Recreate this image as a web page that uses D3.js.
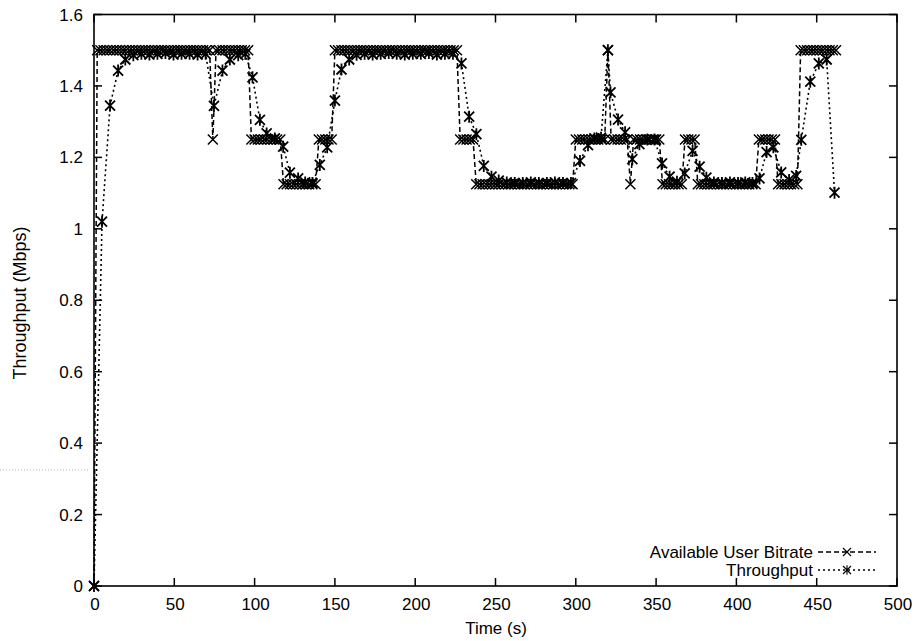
<!DOCTYPE html>
<html>
<head>
<meta charset="utf-8">
<script src="https://cdn.jsdelivr.net/npm/d3@7"></script>
<style>
  body { margin: 0; background: #fff; }
  svg text { font-family: "Liberation Sans", Arial, Helvetica, sans-serif; fill: #000; }
</style>
</head>
<body>
<div id="chart"></div>
<script>
// available user bitrate, sampled every 2 s
var bitrateTime = [
  0,2,4,6,8,10,12,14,16,18,
  20,22,24,26,28,30,32,34,36,38,
  40,42,44,46,48,50,52,54,56,58,
  60,62,64,66,68,70,72,74,76,78,
  80,82,84,86,88,90,92,94,96,98,
  100,102,104,106,108,110,112,114,116,118,
  120,122,124,126,128,130,132,134,136,138,
  140,142,144,146,148,150,152,154,156,158,
  160,162,164,166,168,170,172,174,176,178,
  180,182,184,186,188,190,192,194,196,198,
  200,202,204,206,208,210,212,214,216,218,
  220,222,224,226,228,230,232,234,236,238,
  240,242,244,246,248,250,252,254,256,258,
  260,262,264,266,268,270,272,274,276,278,
  280,282,284,286,288,290,292,294,296,298,
  300,302,304,306,308,310,312,314,316,318,
  320,322,324,326,328,330,332,334,336,338,
  340,342,344,346,348,350,352,354,356,358,
  360,362,364,366,368,370,372,374,376,378,
  380,382,384,386,388,390,392,394,396,398,
  400,402,404,406,408,410,412,414,416,418,
  420,422,424,426,428,430,432,434,436,438,
  440,442,444,446,448,450,452,454,456,458,
  460,462
];
var bitrateValue = [
  0,1.5,1.5,1.5,1.5,1.5,1.5,1.5,1.5,1.5,
  1.5,1.5,1.5,1.5,1.5,1.5,1.5,1.5,1.5,1.5,
  1.5,1.5,1.5,1.5,1.5,1.5,1.5,1.5,1.5,1.5,
  1.5,1.5,1.5,1.5,1.5,1.5,1.5,1.25,1.5,1.5,
  1.5,1.5,1.5,1.5,1.5,1.5,1.5,1.5,1.5,1.25,
  1.25,1.25,1.25,1.25,1.25,1.25,1.25,1.25,1.25,1.125,
  1.125,1.125,1.125,1.125,1.125,1.125,1.125,1.125,1.125,1.125,
  1.25,1.25,1.25,1.25,1.25,1.5,1.5,1.5,1.5,1.5,
  1.5,1.5,1.5,1.5,1.5,1.5,1.5,1.5,1.5,1.5,
  1.5,1.5,1.5,1.5,1.5,1.5,1.5,1.5,1.5,1.5,
  1.5,1.5,1.5,1.5,1.5,1.5,1.5,1.5,1.5,1.5,
  1.5,1.5,1.5,1.5,1.25,1.25,1.25,1.25,1.25,1.125,
  1.125,1.125,1.125,1.125,1.125,1.125,1.125,1.125,1.125,1.125,
  1.125,1.125,1.125,1.125,1.125,1.125,1.125,1.125,1.125,1.125,
  1.125,1.125,1.125,1.125,1.125,1.125,1.125,1.125,1.125,1.125,
  1.25,1.25,1.25,1.25,1.25,1.25,1.25,1.25,1.25,1.25,
  1.5,1.25,1.25,1.25,1.25,1.25,1.25,1.125,1.25,1.25,
  1.25,1.25,1.25,1.25,1.25,1.25,1.25,1.125,1.125,1.125,
  1.125,1.125,1.125,1.125,1.25,1.25,1.25,1.25,1.125,1.125,
  1.125,1.125,1.125,1.125,1.125,1.125,1.125,1.125,1.125,1.125,
  1.125,1.125,1.125,1.125,1.125,1.125,1.125,1.25,1.25,1.25,
  1.25,1.25,1.25,1.125,1.125,1.125,1.125,1.125,1.125,1.125,
  1.5,1.5,1.5,1.5,1.5,1.5,1.5,1.5,1.5,1.5,
  1.5,1.5
];

// measured throughput
var throughputTime = [
  0,5,10,15,19.5,24.5,29.5,34.5,39.5,44.5,
  49.5,54.5,59.5,64.5,69.5,74.7,80,84.6,89.8,94.2,
  98.7,103.3,107.5,112.6,117.8,122,127.1,131.5,136,140.6,
  145.2,150,154.1,158.9,163.5,168.5,173.5,178.5,183.5,188.5,
  193.5,198.5,203.5,208.5,213.5,218.5,223.5,228.8,233.6,238.1,
  242.7,247.5,252,257,262,267,272,277,282,287,
  292,297,302.6,307.6,311.6,315.7,320,321.6,326.3,330.7,
  335.2,339.6,344.5,349,353.7,358.4,363,367.8,372.7,377.1,
  381.3,386,391,396,401,405.5,410,414.4,418.8,423,
  427.9,432.8,437.2,440.4,446,451.3,456.2,461.1
];
var throughputValue = [
  0,1.02,1.345,1.443,1.474,1.486,1.49,1.488,1.49,1.492,
  1.488,1.49,1.49,1.488,1.49,1.344,1.443,1.474,1.486,1.49,
  1.424,1.305,1.267,1.253,1.23,1.157,1.141,1.13,1.128,1.179,
  1.228,1.359,1.446,1.474,1.487,1.49,1.488,1.49,1.492,1.49,
  1.488,1.49,1.49,1.492,1.488,1.49,1.49,1.463,1.314,1.265,
  1.176,1.146,1.135,1.13,1.128,1.128,1.13,1.128,1.128,1.13,
  1.128,1.128,1.19,1.234,1.253,1.255,1.5,1.382,1.306,1.27,
  1.195,1.237,1.25,1.25,1.183,1.146,1.132,1.155,1.218,1.174,
  1.143,1.13,1.128,1.13,1.128,1.13,1.128,1.141,1.215,1.228,
  1.158,1.137,1.148,1.249,1.412,1.463,1.474,1.101
];

var xTicks = [0, 50, 100, 150, 200, 250, 300, 350, 400, 450, 500],
    yTicks = [0, 0.2, 0.4, 0.6, 0.8, 1, 1.2, 1.4, 1.6],
    yTickLabels = ["0", "0.2", "0.4", "0.6", "0.8", "1", "1.2", "1.4", "1.6"];

var seriesNames = ["Available User Bitrate", "Throughput"];

var width = 916,
	height = 641,
	plotLeft = 94, plotRight = 897, plotTop = 14.5, plotBottom = 586,

	svg = d3.select('#chart')
		.append('svg')
		.attr('width', width)
		.attr('height', height),

	x = d3.scaleLinear().domain([0, 500]).range([plotLeft, plotRight]),
	y = d3.scaleLinear().domain([0, 1.6]).range([plotBottom, plotTop]);

var crossPath = "M-5,-5L5,5M-5,5L5,-5",
	starPath = "M-5,-5L5,5M-5,5L5,-5M0,-6L0,6";

// scan artifact on the left margin
svg.append('line')
	.attr('x1', 0).attr('x2', 88)
	.attr('y1', 470).attr('y2', 470)
	.style('stroke', '#bbb')
	.style('stroke-width', 1)
	.style('stroke-dasharray', '1,2');

// frame
svg.append('rect')
	.attr('x', plotLeft).attr('y', plotTop)
	.attr('width', plotRight - plotLeft).attr('height', plotBottom - plotTop)
	.style('fill', 'none')
	.style('stroke', '#000')
	.style('stroke-width', 1.6);

// ticks, mirrored on all four sides
var g = svg.append('g');

g.selectAll('.xb').data(xTicks).enter().append('line')
	.attr('x1', function(d) { return x(d); }).attr('x2', function(d) { return x(d); })
	.attr('y1', plotBottom).attr('y2', plotBottom - 8)
	.style('stroke', '#000').style('stroke-width', 1.5);
g.selectAll('.xt').data(xTicks).enter().append('line')
	.attr('x1', function(d) { return x(d); }).attr('x2', function(d) { return x(d); })
	.attr('y1', plotTop).attr('y2', plotTop + 8)
	.style('stroke', '#000').style('stroke-width', 1.5);
g.selectAll('.yl').data(yTicks).enter().append('line')
	.attr('x1', plotLeft).attr('x2', plotLeft + 8)
	.attr('y1', function(d) { return y(d); }).attr('y2', function(d) { return y(d); })
	.style('stroke', '#000').style('stroke-width', 1.5);
g.selectAll('.yr').data(yTicks).enter().append('line')
	.attr('x1', plotRight).attr('x2', plotRight - 8)
	.attr('y1', function(d) { return y(d); }).attr('y2', function(d) { return y(d); })
	.style('stroke', '#000').style('stroke-width', 1.5);

g.selectAll('.xlab').data(xTicks).enter().append('text')
	.attr('x', function(d) { return x(d) + 1; })
	.attr('y', 610)
	.attr('text-anchor', 'middle')
	.style('font-size', '17px')
	.text(function(d) { return d; });

g.selectAll('.ylab').data(yTicks).enter().append('text')
	.attr('x', 83)
	.attr('y', function(d) { return y(d); })
	.attr('dy', '0.36em')
	.attr('text-anchor', 'end')
	.style('font-size', '17px')
	.text(function(d, i) { return yTickLabels[i]; });

svg.append('text')
	.attr('x', 496)
	.attr('y', 634)
	.attr('text-anchor', 'middle')
	.style('font-size', '17px')
	.text('Time (s)');

svg.append('text')
	.attr('transform', 'translate(26,303) rotate(-90)')
	.attr('text-anchor', 'middle')
	.style('font-size', '18px')
	.text('Throughput (Mbps)');

// series
var bitrate = bitrateTime.map(function(t, i) { return [t, bitrateValue[i]]; }),
	throughput = throughputTime.map(function(t, i) { return [t, throughputValue[i]]; });

var line = d3.line()
	.x(function(d) { return x(d[0]); })
	.y(function(d) { return y(d[1]); });

svg.append('path')
	.datum(bitrate)
	.attr('d', line)
	.style('fill', 'none')
	.style('stroke', '#000')
	.style('stroke-width', 1.5)
	.style('stroke-dasharray', '5,3');

svg.selectAll('.bm').data(bitrate).enter().append('path')
	.attr('d', crossPath)
	.attr('transform', function(d) { return 'translate(' + x(d[0]) + ',' + y(d[1]) + ')'; })
	.style('fill', 'none')
	.style('stroke', '#000')
	.style('stroke-width', 1.5);

svg.append('path')
	.datum(throughput)
	.attr('d', line)
	.style('fill', 'none')
	.style('stroke', '#000')
	.style('stroke-width', 1.6)
	.style('stroke-dasharray', '2,3');

svg.selectAll('.tm').data(throughput).enter().append('path')
	.attr('d', starPath)
	.attr('transform', function(d) { return 'translate(' + x(d[0]) + ',' + y(d[1]) + ')'; })
	.style('fill', 'none')
	.style('stroke', '#000')
	.style('stroke-width', 1.8);

// legend
var legend = svg.append('g');
var legendY = [552, 570],
	legendMarks = [crossPath, starPath],
	legendDash = ['5,3', '2,3'];

seriesNames.forEach(function(name, i) {
	legend.append('text')
		.attr('x', 813)
		.attr('y', legendY[i])
		.attr('dy', '0.36em')
		.attr('text-anchor', 'end')
		.style('font-size', '17px')
		.text(name);
	legend.append('line')
		.attr('x1', 818).attr('x2', 876)
		.attr('y1', legendY[i]).attr('y2', legendY[i])
		.style('stroke', '#000')
		.style('stroke-width', 1.3)
		.style('stroke-dasharray', legendDash[i]);
	legend.append('path')
		.attr('d', legendMarks[i])
		.attr('transform', 'translate(847,' + legendY[i] + ') scale(0.8)')
		.style('fill', 'none')
		.style('stroke', '#000')
		.style('stroke-width', 1.4);
});
</script>
</body>
</html>
